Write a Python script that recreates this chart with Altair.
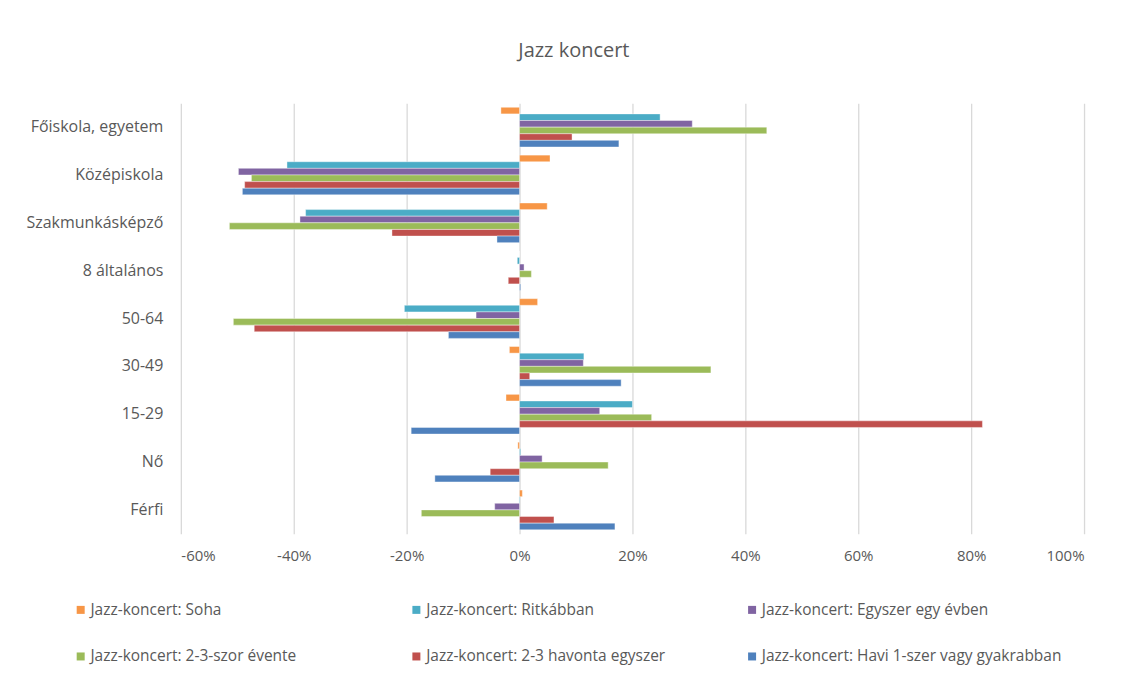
import altair as alt
import pandas as pd

categories = ["Főiskola, egyetem", "Középiskola", "Szakmunkásképző", "8 általános",
              "50-64", "30-49", "15-29", "Nő", "Férfi"]
series = ["Jazz-koncert: Soha", "Jazz-koncert: Ritkábban", "Jazz-koncert: Egyszer egy évben",
          "Jazz-koncert: 2-3-szor évente", "Jazz-koncert: 2-3 havonta egyszer",
          "Jazz-koncert: Havi 1-szer vagy gyakrabban"]
colors = ["#F79646", "#4BACC6", "#8064A2", "#9BBB59", "#C0504D", "#4F81BD"]

soha = [-3.3, 5.4, 4.9, 0.0, 3.2, -1.8, -2.4, -0.3, 0.5]
ritkabban = [24.9, -41.2, -37.9, -0.4, -20.4, 11.4, 20.0, 0.2, -0.1]
egyszer = [30.6, -49.8, -38.9, 0.8, -7.7, 11.3, 14.2, 4.0, -4.4]
evente = [43.8, -47.5, -51.4, 2.1, -50.7, 33.9, 23.4, 15.7, -17.4]
havonta = [9.3, -48.7, -22.6, -2.0, -47.0, 1.8, 82.0, -5.2, 6.1]
havi = [17.6, -49.1, -4.0, 0.2, -12.6, 18.0, -19.2, -15.0, 16.9]

x_ticks = [-0.6, -0.4, -0.2, 0.0, 0.2, 0.4, 0.6, 0.8, 1.0]

rows = []
for s, vals in zip(series, [soha, ritkabban, egyszer, evente, havonta, havi]):
    for c, v in zip(categories, vals):
        rows.append({"category": c, "series": s, "value": v / 100.0})
df = pd.DataFrame(rows)

FONT = "Open Sans"
GRAY = "#595959"

chart = alt.Chart(df).mark_bar(stroke="white", strokeWidth=0.4).encode(
    y=alt.Y("category:N", sort=categories,
            scale=alt.Scale(paddingInner=0.17, paddingOuter=0.085),
            axis=alt.Axis(title=None, domain=False, ticks=False, labelPadding=18,
                          labelFontSize=16, labelColor=GRAY, labelFont=FONT, grid=False)),
    yOffset=alt.YOffset("series:N", sort=series),
    x=alt.X("value:Q", scale=alt.Scale(domain=[-0.6, 1.0], nice=False),
            axis=alt.Axis(title=None, values=x_ticks, domain=False, ticks=False,
                          labelExpr="(datum.value < 0 ? '-' : '') + format(abs(datum.value), '.0%')",
                          labelPadding=15, labelFontSize=15, labelColor=GRAY, labelFont=FONT,
                          grid=True, gridColor="#d9d9d9", gridWidth=1.3)),
    color=alt.Color("series:N", sort=series,
                    scale=alt.Scale(domain=series, range=colors),
                    legend=alt.Legend(title=None, orient="none", legendX=-108, legendY=499,
                                      direction="horizontal",
                                      columns=3, gridAlign="all", columnPadding=18,
                                      rowPadding=30, symbolType="square", symbolSize=64,
                                      symbolStrokeWidth=0, labelOffset=2,
                                      labelFontSize=15.5, labelColor=GRAY, labelFont=FONT,
                                      labelLimit=400)),
).properties(
    width=904,
    height=431,
    background="white",
    title=alt.TitleParams("Jazz koncert", fontSize=20, font=FONT, color=GRAY,
                          fontWeight="normal", anchor="middle", frame="bounds", offset=42,
                          dx=19),
    autosize=alt.AutoSizeParams(type="none"),
    padding={"left": 173, "top": 95, "right": 45, "bottom": 140},
).configure_view(strokeWidth=0, stroke="transparent")

chart.save("out.html", embed_options={"renderer": "svg", "actions": False})
